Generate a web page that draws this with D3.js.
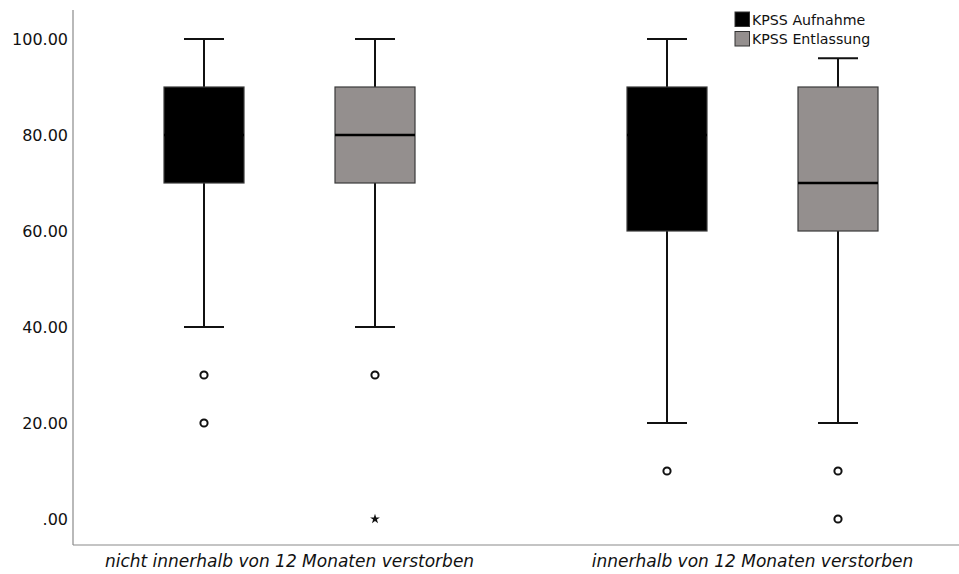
<!DOCTYPE html>
<html>
<head>
<meta charset="utf-8">
<script src="https://cdn.jsdelivr.net/npm/d3@7"></script>
<style>
  html, body { margin: 0; padding: 0; background: #fff; }
  svg { display: block; }
</style>
</head>
<body>
<svg id="chart" width="959" height="574"></svg>
<script>
// Groups along the x axis and the two measured series
const groups = ["nicht innerhalb von 12 Monaten verstorben", "innerhalb von 12 Monaten verstorben"];
const series = ["KPSS Aufnahme", "KPSS Entlassung"];
const seriesColors = ["#000000", "#948f8e"];
const yTicks = [0, 20, 40, 60, 80, 100];

// Five-number summaries per group, one array per series: [whiskerLow, q1, median, q3, whiskerHigh]
const aufnahmeStats = [[40, 70, 80, 90, 100], [20, 60, 80, 90, 100]];
const entlassungStats = [[40, 70, 80, 90, 100], [20, 60, 70, 90, 96]];

// Outliers (circles) and extreme values (stars)
const aufnahmeOutliers = [[30, 20], [10]];
const entlassungOutliers = [[30], [10, 0]];
const aufnahmeExtremes = [[], []];
const entlassungExtremes = [[0], []];

const statsBySeries = [aufnahmeStats, entlassungStats];
const outliersBySeries = [aufnahmeOutliers, entlassungOutliers];
const extremesBySeries = [aufnahmeExtremes, entlassungExtremes];

(function draw() {
  const svg = d3.select("#chart");
  const plotLeft = 73, plotRight = 959, plotTop = 10, plotBottom = 545;

  const y = d3.scaleLinear().domain([0, 100]).range([519, 39]);
  const x = d3.scaleBand().domain(groups).range([58, 984]);
  const boxWidth = 80;
  const inner = d3.scaleBand().domain(series).range([-171, 171]);

  // Axis lines
  svg.append("line").attr("x1", plotLeft).attr("x2", plotLeft).attr("y1", plotTop).attr("y2", plotBottom)
    .attr("stroke", "#8a8a8a").attr("stroke-width", 1.2);
  svg.append("line").attr("x1", plotLeft).attr("x2", plotRight).attr("y1", plotBottom).attr("y2", plotBottom)
    .attr("stroke", "#8a8a8a").attr("stroke-width", 1.2);

  // Y axis labels
  const yAxis = d3.axisLeft(y).tickValues(yTicks).tickSize(0).tickPadding(0)
    .tickFormat(d => d === 0 ? ".00" : d3.format(".2f")(d));
  const gy = svg.append("g").attr("transform", `translate(${plotLeft - 5},0)`).call(yAxis);
  gy.select(".domain").remove();
  gy.selectAll("text").attr("font-family", "DejaVu Sans, sans-serif").attr("font-size", 16).attr("fill", "#111");

  // X axis labels
  const xAxis = d3.axisBottom(x).tickSize(0).tickPadding(0);
  const gx = svg.append("g").attr("transform", `translate(0,${plotBottom})`).call(xAxis);
  gx.select(".domain").remove();
  gx.selectAll("text").attr("y", 22).attr("dy", null)
    .attr("font-family", "DejaVu Sans, sans-serif").attr("font-size", 17)
    .attr("font-style", "italic").attr("fill", "#111");

  // Boxes
  groups.forEach((g, gi) => {
    series.forEach((s, si) => {
      const [lo, q1, med, q3, hi] = statsBySeries[si][gi];
      const cx = x(g) + x.bandwidth() / 2 + inner(s) + inner.bandwidth() / 2;
      const box = svg.append("g");
      // whiskers
      box.append("line").attr("x1", cx).attr("x2", cx).attr("y1", y(hi)).attr("y2", y(q3))
        .attr("stroke", "#111").attr("stroke-width", 2);
      box.append("line").attr("x1", cx).attr("x2", cx).attr("y1", y(q1)).attr("y2", y(lo))
        .attr("stroke", "#111").attr("stroke-width", 2);
      [lo, hi].forEach(v => box.append("line")
        .attr("x1", cx - boxWidth / 4).attr("x2", cx + boxWidth / 4)
        .attr("y1", y(v)).attr("y2", y(v)).attr("stroke", "#111").attr("stroke-width", 2));
      // box
      box.append("rect").attr("x", cx - boxWidth / 2).attr("width", boxWidth)
        .attr("y", y(q3)).attr("height", y(q1) - y(q3))
        .attr("fill", seriesColors[si]).attr("stroke", "#3a3a3a").attr("stroke-width", 1.2);
      // median
      box.append("line").attr("x1", cx - boxWidth / 2).attr("x2", cx + boxWidth / 2)
        .attr("y1", y(med)).attr("y2", y(med)).attr("stroke", "#000").attr("stroke-width", 2.4);
      // outliers
      outliersBySeries[si][gi].forEach(v => box.append("circle")
        .attr("cx", cx).attr("cy", y(v)).attr("r", 3.6)
        .attr("fill", "#fff").attr("stroke", "#111").attr("stroke-width", 2));
      // extremes
      extremesBySeries[si][gi].forEach(v => box.append("path")
        .attr("d", d3.symbol(d3.symbolStar, 30)())
        .attr("transform", `translate(${cx},${y(v)})`).attr("fill", "#111"));
    });
  });

  // Legend
  const legend = svg.append("g").attr("transform", "translate(735,12)");
  series.forEach((s, i) => {
    const row = legend.append("g").attr("transform", `translate(0,${i * 19.5})`);
    row.append("rect").attr("width", 14.5).attr("height", 14.5)
      .attr("fill", seriesColors[i]).attr("stroke", "#333").attr("stroke-width", 1);
    row.append("text").attr("x", 17).attr("y", 12.5).text(s)
      .attr("font-family", "DejaVu Sans, sans-serif").attr("font-size", 14.2).attr("fill", "#111");
  });
})();
</script>
</body>
</html>
